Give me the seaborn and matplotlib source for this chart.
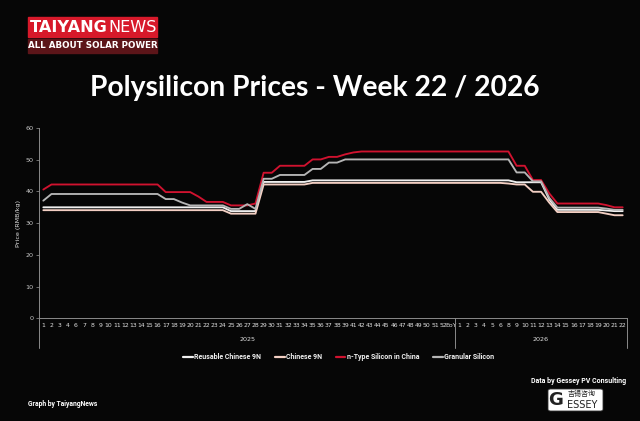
import numpy as np
import pandas as pd
import seaborn as sns
import matplotlib.pyplot as plt
from matplotlib.patches import Rectangle, FancyBboxPatch

# ---------------- data ----------------
weeks_2025 = ["1", "2", "3", "4", "6", "7", "8", "9", "10", "11", "12", "13", "14", "15", "16",
              "17", "18", "19", "20", "21", "22", "23", "24", "25", "26", "27", "28",
              "29", "30", "31", "32", "33", "34", "35", "36", "37", "38", "39",
              "41", "42", "43", "44", "45", "46", "47", "48", "49", "50", "51", "52", "EoY"]
weeks_2026 = ["1", "2", "3", "4", "5", "6", "8", "9", "10", "11", "12", "13", "14",
              "15", "16", "17", "18", "19", "20", "21", "22"]
years = ["2025", "2026"]

series_names = ["Reusable Chinese 9N", "Chinese 9N", "n-Type Silicon in China", "Granular Silicon"]

reusable_2025 = [35.0, 35.0, 35.0, 35.0, 35.0, 35.0, 35.0, 35.0, 35.0, 35.0, 35.0, 35.0, 35.0, 35.0, 35.0,
                 35.0, 35.0, 35.0, 35.0, 35.0, 35.0, 35.0, 35.0, 33.8, 33.8, 33.8, 33.8,
                 43.0, 43.0, 43.0, 43.0, 43.0, 43.0, 43.5, 43.5, 43.5, 43.5, 43.5,
                 43.5, 43.5, 43.5, 43.5, 43.5, 43.5, 43.5, 43.5, 43.5, 43.5, 43.5, 43.5, 43.5]
reusable_2026 = [43.5, 43.5, 43.5, 43.5, 43.5, 43.5, 43.5, 42.9, 42.9, 42.9, 42.9, 37.5, 34.2,
                 34.2, 34.2, 34.2, 34.2, 34.2, 34.0, 33.8, 33.8]

chinese_2025 = [34.1, 34.1, 34.1, 34.1, 34.1, 34.1, 34.1, 34.1, 34.1, 34.1, 34.1, 34.1, 34.1, 34.1, 34.1,
                34.1, 34.1, 34.1, 34.1, 34.1, 34.1, 34.1, 34.1, 33.0, 33.0, 33.0, 33.0,
                42.2, 42.2, 42.2, 42.2, 42.2, 42.2, 42.7, 42.7, 42.7, 42.7, 42.7,
                42.7, 42.7, 42.7, 42.7, 42.7, 42.7, 42.7, 42.7, 42.7, 42.7, 42.7, 42.7, 42.7]
chinese_2026 = [42.7, 42.7, 42.7, 42.7, 42.7, 42.7, 42.5, 42.2, 42.2, 39.9, 39.9, 36.5, 33.5,
                33.5, 33.5, 33.5, 33.5, 33.5, 33.0, 32.5, 32.5]

ntype_2025 = [40.6, 42.2, 42.2, 42.2, 42.2, 42.2, 42.2, 42.2, 42.2, 42.2, 42.2, 42.2, 42.2, 42.2, 42.2,
              39.8, 39.8, 39.8, 39.8, 38.4, 36.7, 36.7, 36.7, 35.6, 35.6, 35.6, 36.2,
              45.9, 45.9, 48.1, 48.1, 48.1, 48.1, 50.1, 50.1, 50.9, 50.9, 51.7,
              52.3, 52.6, 52.6, 52.6, 52.6, 52.6, 52.6, 52.6, 52.6, 52.6, 52.6, 52.6, 52.6]
ntype_2026 = [52.6, 52.6, 52.6, 52.6, 52.6, 52.6, 52.6, 48.1, 48.1, 43.6, 43.6, 39.4, 36.2,
              36.2, 36.2, 36.2, 36.2, 36.2, 35.7, 35.0, 35.0]

granular_2025 = [37.1, 39.2, 39.2, 39.2, 39.2, 39.2, 39.2, 39.2, 39.2, 39.2, 39.2, 39.2, 39.2, 39.2, 39.2,
                 37.6, 37.6, 36.5, 35.6, 35.6, 35.6, 35.6, 35.6, 34.5, 34.5, 36.0, 34.5,
                 44.0, 44.0, 45.2, 45.2, 45.2, 45.2, 47.1, 47.1, 49.1, 49.1, 50.1,
                 50.1, 50.1, 50.1, 50.1, 50.1, 50.1, 50.1, 50.1, 50.1, 50.1, 50.1, 50.1, 50.1]
granular_2026 = [50.1, 50.1, 50.1, 50.1, 50.1, 50.1, 50.1, 46.0, 46.0, 43.2, 43.2, 38.0, 34.9,
                 34.9, 34.9, 34.9, 34.9, 34.9, 34.6, 34.2, 34.2]

# ---------------- build table ----------------
week_labels = weeks_2025 + weeks_2026
year_of = [years[0]] * len(weeks_2025) + [years[1]] * len(weeks_2026)
values = {
    series_names[0]: reusable_2025 + reusable_2026,
    series_names[1]: chinese_2025 + chinese_2026,
    series_names[2]: ntype_2025 + ntype_2026,
    series_names[3]: granular_2025 + granular_2026,
}
n = len(week_labels)
rows = []
for s in series_names:
    for i in range(n):
        rows.append({"pos": i, "week": week_labels[i], "year": year_of[i], "series": s, "price": values[s][i]})
df = pd.DataFrame(rows)

colors = {
    "Reusable Chinese 9N": "#EFEFEF",
    "Chinese 9N": "#F3CFC3",
    "n-Type Silicon in China": "#D0122F",
    "Granular Silicon": "#B5B5B5",
}

BG = "#060606"
NARROW = ["Roboto", "DejaVu Sans"]
sns.set_theme(style="dark")
plt.rcParams["font.family"] = ["DejaVu Sans", "Noto Sans CJK SC"]

fig = plt.figure(figsize=(6.4, 4.21), dpi=100, facecolor=BG)
ax = fig.add_axes([0.0613, 0.2439, 0.918, 0.452])
ax.set_facecolor(BG)

sns.lineplot(data=df, x="pos", y="price", hue="series", hue_order=series_names,
             palette=colors, linewidth=1.35, ax=ax)

ax.set_xlim(-0.5, n - 0.5)
ax.set_ylim(0, 60)
ax.set_yticks(np.arange(0, 61, 10))
ax.set_yticklabels([str(v) for v in range(0, 61, 10)], fontsize=4.6, color="#C8C8C8")
ax.set_xticks(np.arange(n))
ax.set_xticklabels(week_labels, fontsize=4.4, color="#E0E0E0")
ax.tick_params(axis="x", length=0, pad=3.2)
ax.tick_params(axis="y", length=2, width=0.6, color="#808080", pad=2, left=True)
ax.grid(False)
for sp in ["top", "right"]:
    ax.spines[sp].set_visible(False)
for sp in ["left", "bottom"]:
    ax.spines[sp].set_color("#8A8A8A")
    ax.spines[sp].set_linewidth(0.7)
ax.set_xlabel("")
ax.set_ylabel("Price (RMB/kg)", fontsize=4.6, color="#E0E0E0", labelpad=3)

# multi-level category axis separators and year labels
n25 = len(weeks_2025)
for xb in [-0.5, n25 - 0.5, n - 0.5]:
    ax.plot([xb, xb], [0, -0.158], transform=ax.get_xaxis_transform(), color="#8A8A8A",
            lw=0.7, clip_on=False)
ax.text((n25 - 1) / 2, -0.109, years[0], transform=ax.get_xaxis_transform(), ha="center",
        va="center", fontsize=4.6, color="#E0E0E0")
ax.text((n25 + n - 1) / 2, -0.109, years[1], transform=ax.get_xaxis_transform(), ha="center",
        va="center", fontsize=4.6, color="#E0E0E0")

# legend
sns.move_legend(ax, "center", bbox_to_anchor=(0.529, 0.152), bbox_transform=fig.transFigure,
                ncol=4, frameon=False, title=None, fontsize=5.0, handlelength=1.4,
                handletextpad=0.15, columnspacing=2.0, prop={"family": NARROW, "weight": "bold", "size": 5.0})
leg = ax.get_legend()
for t in leg.get_texts():
    t.set_color("#F0F0F0")
for h in leg.legend_handles:
    h.set_linewidth(1.6)

# title
fig.text(0.492, 0.791, "Polysilicon Prices - Week 22 / 2026", ha="center", va="center",
         fontsize=20.3, fontweight="bold", color="white", family="Lato")

# logo
fig.patches.append(Rectangle((28 / 640, 1 - 37 / 421), 129 / 640, 20 / 421,
                             transform=fig.transFigure, color="#D7192A", zorder=1))
fig.patches.append(Rectangle((28 / 640, 1 - 53 / 421), 129 / 640, 14.5 / 421,
                             transform=fig.transFigure, color="#5C1519", zorder=1))
t1 = fig.text(30 / 640, 1 - 27 / 421, "TAIYANG", ha="left", va="center", fontsize=11.6,
              fontweight="bold", color="white")
fig.canvas.draw()
bb = t1.get_window_extent(fig.canvas.get_renderer())
fig.text(bb.x1 / fig.bbox.width + 0.5 / 640, 1 - 27 / 421, "NEWS", ha="left", va="center",
         fontsize=11.6, fontweight="normal", color="white")
fig.text(92.5 / 640, 1 - 46 / 421, "ALL ABOUT SOLAR POWER", ha="center", va="center",
         fontsize=6.3, fontweight="bold", color="white")

# footer
fig.text(28 / 640, 1 - 404 / 421, "Graph by TaiyangNews", ha="left", va="center",
         fontsize=4.9, fontweight="bold", color="white", family=NARROW)
fig.text(626 / 640, 1 - 381 / 421, "Data by Gessey PV Consulting", ha="right", va="center",
         fontsize=5.0, fontweight="bold", color="white", family=NARROW)
fig.patches.append(FancyBboxPatch((548 / 640, 1 - 411 / 421), 55 / 640, 22 / 421,
                                  boxstyle="round,pad=0,rounding_size=0.004",
                                  transform=fig.transFigure, facecolor="white",
                                  edgecolor="#333333", lw=0.6, zorder=1))
fig.text(556 / 640, 1 - 400 / 421, "G", ha="center", va="center", fontsize=13,
         fontweight="bold", color="#222222", zorder=3)
fig.text(582 / 640, 1 - 405.5 / 421, "ESSEY", ha="center", va="center", fontsize=7,
         color="#222222", zorder=3)
fig.text(582 / 640, 1 - 394 / 421, "吉锡咨询", ha="center", va="center", fontsize=5,
         color="#222222", family=["Noto Sans CJK SC", "DejaVu Sans"], zorder=3)

fig.savefig("out.png", dpi=100, facecolor=BG)
